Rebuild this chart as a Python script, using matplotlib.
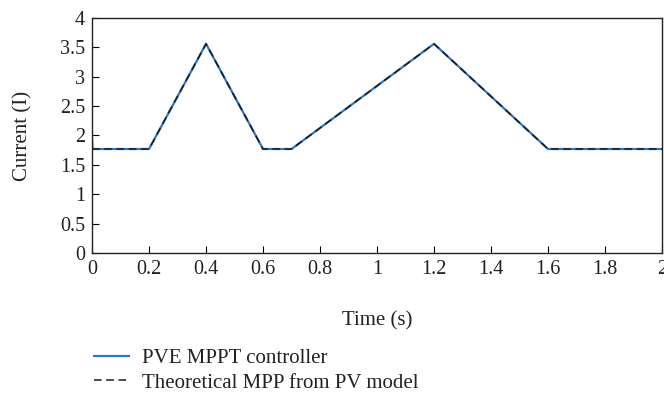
import matplotlib.pyplot as plt

plt.rcParams['font.family'] = 'Liberation Serif'

# PVE controller output and theoretical MPP current
time_ctrl = [0, 0.002, 0.2, 0.4, 0.6, 0.7, 1.2, 1.6, 2.0]
current_ctrl = [1.95, 1.77, 1.77, 3.56, 1.77, 1.77, 3.56, 1.77, 1.77]

time_mpp = [0, 0.2, 0.4, 0.6, 0.7, 1.2, 1.6, 2.0]
current_mpp = [1.77, 1.77, 3.56, 1.77, 1.77, 3.56, 1.77, 1.77]

fig = plt.figure(figsize=(6.64, 3.98), dpi=100)
ax = fig.add_axes([0.1386, 0.3643, 0.8584, 0.5905])

ax.plot(time_ctrl, current_ctrl, color='#2f78c4', lw=1.6, label='PVE MPPT controller')
ax.plot(time_mpp, current_mpp, color='#1a1a1a', lw=1.1, ls=(0, (5, 3)),
        label='Theoretical MPP from PV model')

ax.set_xlim(0, 2)
ax.set_ylim(0, 4)
ax.set_xticks([0, 0.2, 0.4, 0.6, 0.8, 1, 1.2, 1.4, 1.6, 1.8, 2])
ax.set_xticklabels(['0', '0.2', '0.4', '0.6', '0.8', '1', '1.2', '1.4', '1.6', '1.8', '2'])
ax.set_yticks([0, 0.5, 1, 1.5, 2, 2.5, 3, 3.5, 4])
ax.set_yticklabels(['0', '0.5', '1', '1.5', '2', '2.5', '3', '3.5', '4'])
ax.tick_params(direction='in', length=5, width=0.8, labelsize=14.5, pad=5,
               labelcolor='#222222')

for s in ax.spines.values():
    s.set_linewidth(1.0)
    s.set_color('#222222')

ax.set_xlabel('Time (s)', fontsize=15, labelpad=23, color='#222222')
ax.set_ylabel('Current (I)', fontsize=15, labelpad=20, color='#222222')

leg = fig.legend(loc='upper left', bbox_to_anchor=(0.113, 0.172), frameon=False,
                 fontsize=15, handlelength=1.7, handletextpad=0.6, labelspacing=0.25)
for t in leg.get_texts():
    t.set_color('#222222')

fig.savefig('out.png', dpi=100)
